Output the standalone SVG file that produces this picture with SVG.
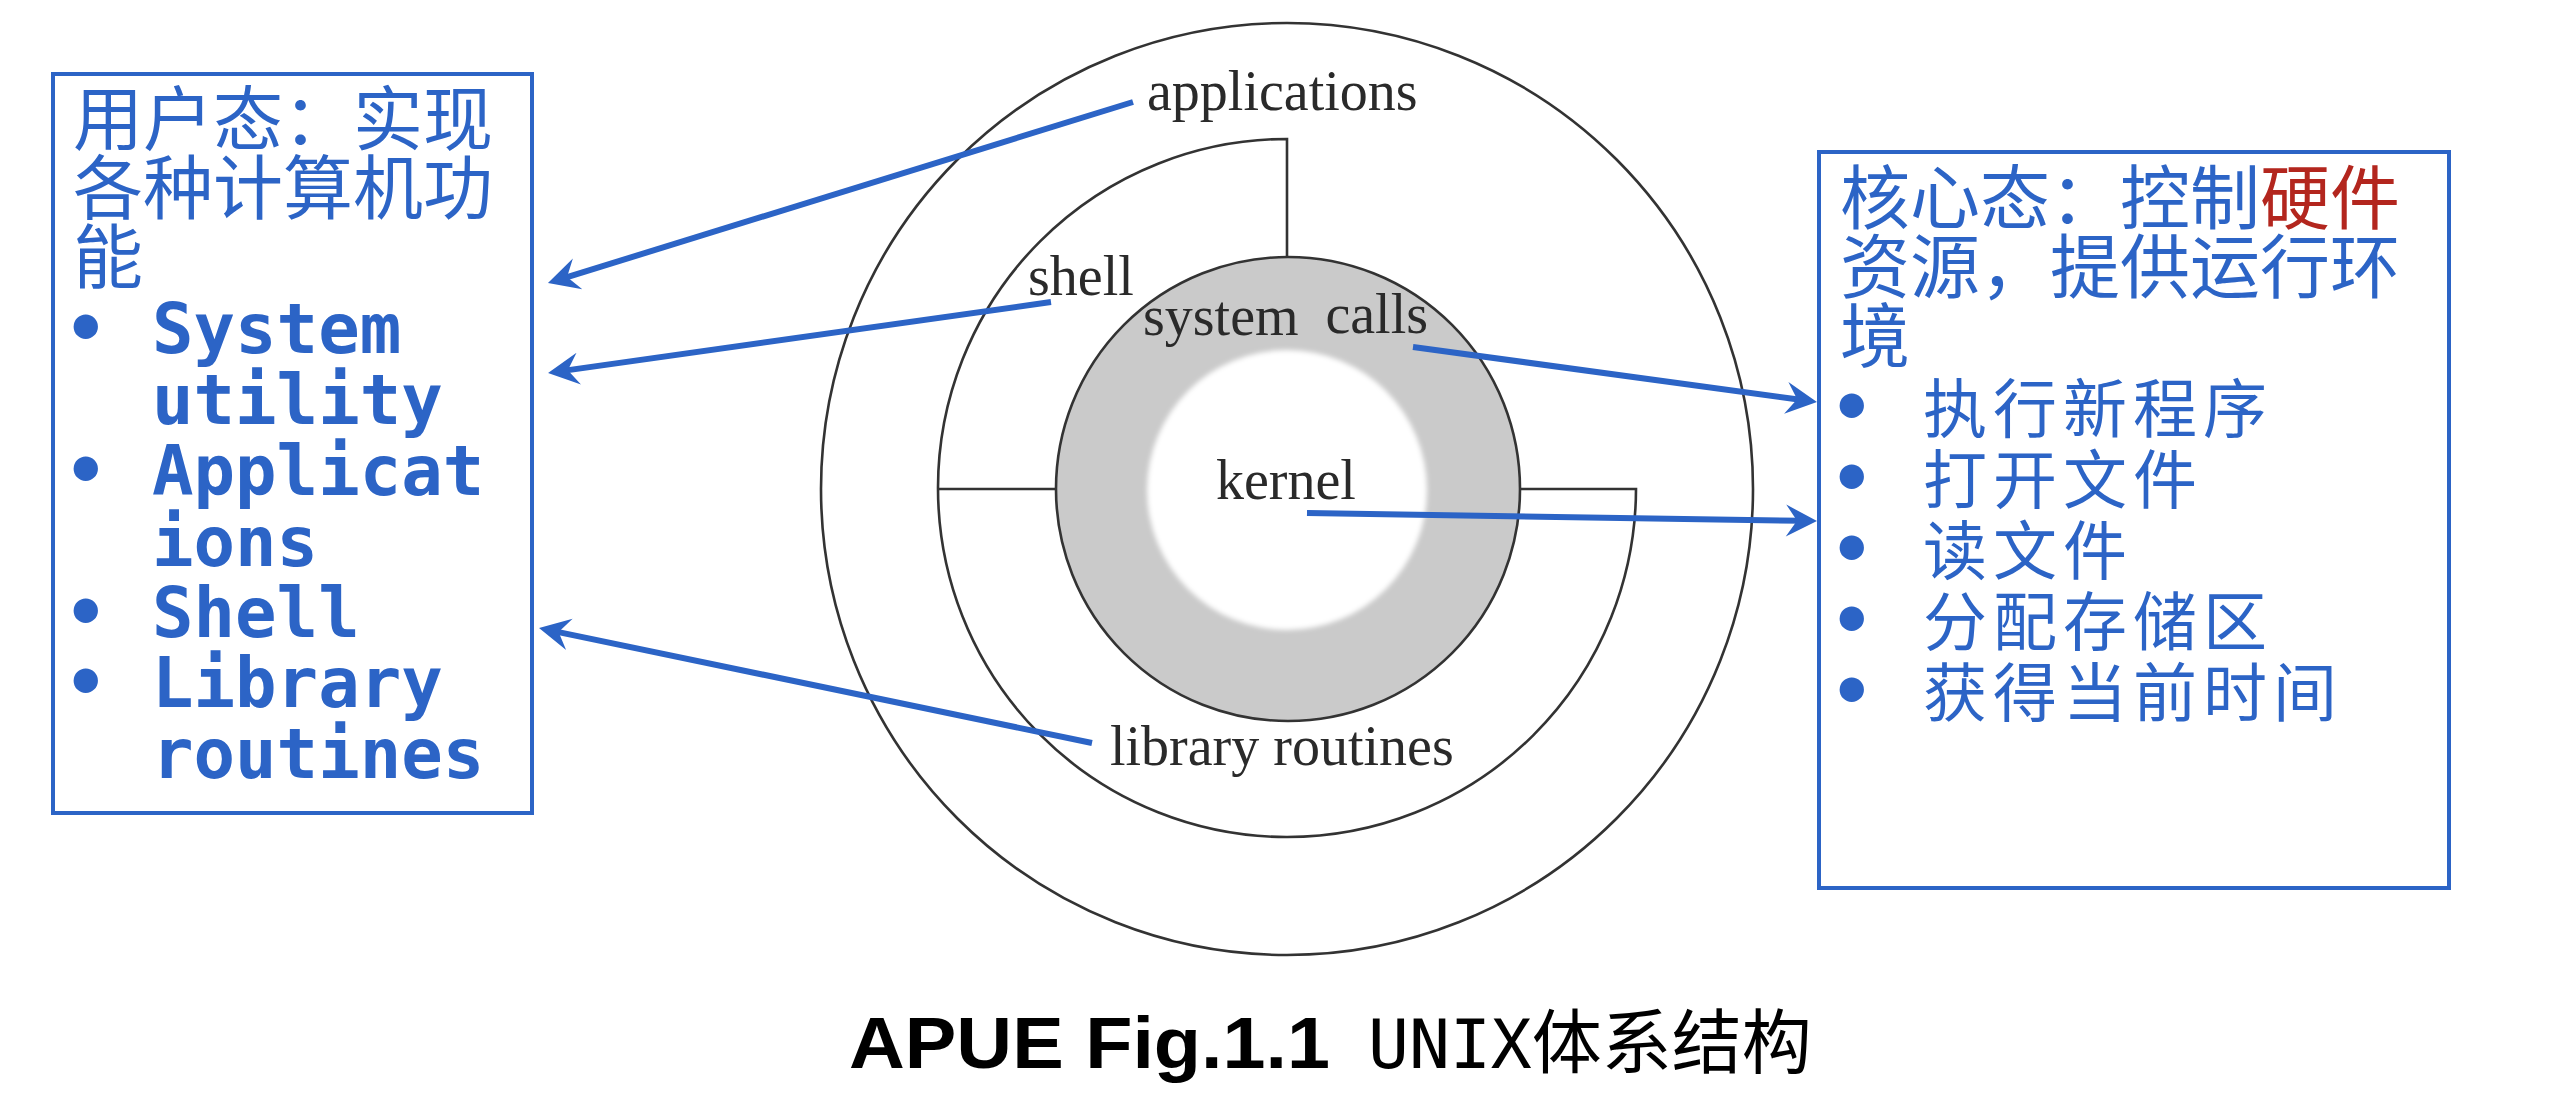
<svg xmlns="http://www.w3.org/2000/svg" width="2556" height="1098" viewBox="0 0 2556 1098">
<defs>
<style>
.box{fill:#fff;stroke:#2C64C6;stroke-width:4}
.cn{font-family:"Noto Sans CJK SC",sans-serif;font-size:70px;fill:#2C64C6}
.mono{font-family:"DejaVu Sans Mono",monospace;font-weight:bold;font-size:69px;fill:#2C64C6}
.item{font-family:"Noto Sans CJK SC",sans-serif;font-size:64px;letter-spacing:6px;fill:#2C64C6}
.lbl{font-family:"Liberation Serif","DejaVu Serif",serif;font-size:56px;fill:#2a2a2a}
.ring{fill:none;stroke:#333;stroke-width:2.6}
.conn{stroke:#2C64C6;stroke-width:6;fill:none;marker-end:url(#arr)}
</style>
<marker id="arr" markerUnits="userSpaceOnUse" markerWidth="60" markerHeight="60" viewBox="-30 -30 60 60" refX="0" refY="0" orient="auto" overflow="visible">
<path d="M15,0 L-16,-16 L-5,0 L-16,16 Z" fill="#2C64C6"/>
</marker>
<filter id="soft" x="-10%" y="-10%" width="120%" height="120%"><feGaussianBlur stdDeviation="2.5"/></filter>
</defs>
<rect width="2556" height="1098" fill="#fff"/>

<g id="node-user-mode">
<rect class="box" x="53" y="74" width="479" height="739"/>
<text class="cn" x="73" y="145">用户态：实现</text>
<text class="cn" x="73" y="214">各种计算机功</text>
<text class="cn" x="73" y="283">能</text>
<text class="mono" x="65" y="353">•</text>
<text class="mono" x="152" y="353">System</text>
<text class="mono" x="152" y="424">utility</text>
<text class="mono" x="65" y="495">•</text>
<text class="mono" x="152" y="495">Applicat</text>
<text class="mono" x="152" y="566">ions</text>
<text class="mono" x="65" y="637">•</text>
<text class="mono" x="152" y="637">Shell</text>
<text class="mono" x="65" y="707">•</text>
<text class="mono" x="152" y="707">Library</text>
<text class="mono" x="152" y="778">routines</text>
</g>

<g id="node-kernel-mode">
<rect class="box" x="1819" y="152" width="630" height="736"/>
<text class="cn" x="1840" y="224">核心态：控制<tspan fill="#B3261E">硬件</tspan></text>
<text class="cn" x="1840" y="293">资源，提供运行环</text>
<text class="cn" x="1840" y="362">境</text>
<text class="mono" x="1831" y="432">•</text>
<text class="item" x="1923" y="432">执行新程序</text>
<text class="mono" x="1831" y="503">•</text>
<text class="item" x="1923" y="503">打开文件</text>
<text class="mono" x="1831" y="574">•</text>
<text class="item" x="1923" y="574">读文件</text>
<text class="mono" x="1831" y="645">•</text>
<text class="item" x="1923" y="645">分配存储区</text>
<text class="mono" x="1831" y="716">•</text>
<text class="item" x="1923" y="716">获得当前时间</text>
</g>

<g id="node-applications">
<circle class="ring" cx="1287" cy="489" r="466"/>
<text class="lbl" x="1147" y="110">applications</text>
</g>

<g id="node-shell">
<path class="ring" d="M1520,489 H1636 A349,349 0 1 1 1287,139 V257"/>
<path class="ring" d="M937,489 H1057"/>
<text class="lbl" x="1028" y="295">shell</text>
</g>

<g id="node-system-calls">
<circle cx="1288" cy="489" r="232" fill="#cacaca" stroke="#333" stroke-width="2.6"/>
<text class="lbl" x="1143" y="335">system</text>
<text class="lbl" x="1428" y="333" text-anchor="end">calls</text>
</g>

<g id="node-kernel">
<circle cx="1287" cy="490" r="140" fill="#fff" filter="url(#soft)"/>
<text class="lbl" x="1216" y="499">kernel</text>
</g>

<g id="node-library-routines">
<text class="lbl" x="1110" y="765">library routines</text>
</g>

<g id="connectors">
<path class="conn" d="M1133,102 L562.3,278.6"/>
<path class="conn" d="M1051,302 L562.9,370.9"/>
<path class="conn" d="M1092,743 L553.7,631.1"/>
<path class="conn" d="M1413,347 L1802.1,400"/>
<path class="conn" d="M1307,513 L1802,520.8"/>
</g>

<g id="caption">
<text x="849" y="1068" font-family="Liberation Sans, Arial, sans-serif" font-weight="bold" font-size="72" textLength="481" lengthAdjust="spacingAndGlyphs">APUE Fig.1.1</text>
<text x="1368" y="1068" font-size="68" fill="#000"><tspan font-family="DejaVu Sans Mono, monospace">UNIX</tspan><tspan font-family="Noto Sans CJK SC, sans-serif" font-size="70">体系结构</tspan></text>
</g>
</svg>
